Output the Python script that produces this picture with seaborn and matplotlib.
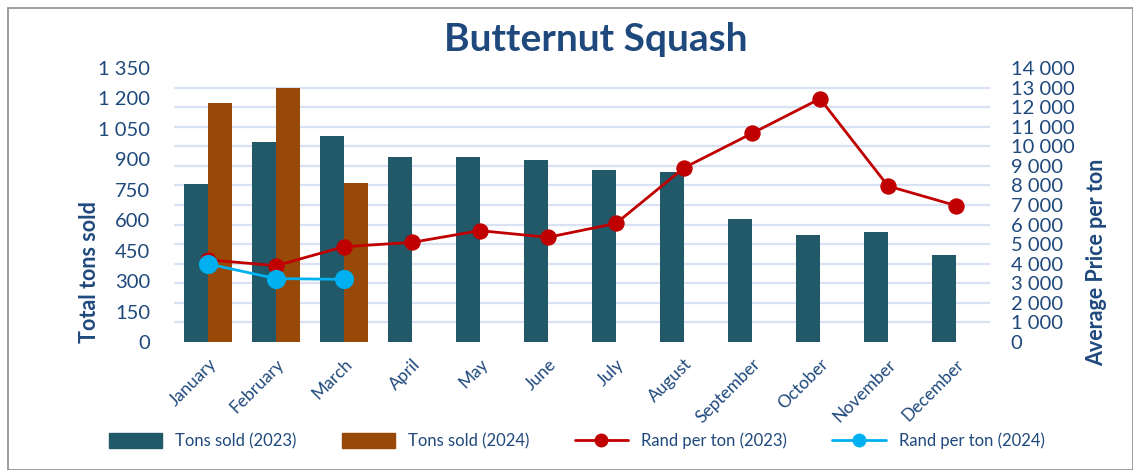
import numpy as np
import pandas as pd
import matplotlib
matplotlib.use("Agg")
import matplotlib.pyplot as plt
import seaborn as sns
from matplotlib.lines import Line2D
from matplotlib.patches import Patch, Rectangle

months = ["January", "February", "March", "April", "May", "June", "July",
          "August", "September", "October", "November", "December"]
tons_2023 = [780, 985, 1015, 910, 912, 898, 846, 836, 607, 527, 540, 428]
tons_2024 = [1176, 1250, 782] + [np.nan] * 9
rand_2023 = [4200, 3900, 4870, 5090, 5690, 5350, 6060, 8900, 10660, 12430, 7970, 6970]
rand_2024 = [3990, 3240, 3200]

teal = "#215968"
brown = "#984807"
red = "#C00000"
blue = "#00B0F0"
txt = "#1F497D"
grid = "#D9E2F3"

sns.set_theme(style="white")
plt.rcParams["font.family"] = ["Lato", "DejaVu Sans"]

df = pd.DataFrame({
    "month": months * 2,
    "tons": tons_2023 + tons_2024,
    "series": ["Tons sold (2023)"] * 12 + ["Tons sold (2024)"] * 12,
})

fig = plt.figure(figsize=(11.33, 4.7), dpi=100)
ax = fig.add_axes([174 / 1133, 1 - 342 / 470, 816 / 1133, 274 / 470])
sns.barplot(data=df, x="month", y="tons", hue="series", order=months,
            palette=[teal, brown], width=0.7, saturation=1, ax=ax,
            legend=False, linewidth=0)
ax.set_xlim(-0.5, 11.5)
ax.set_ylim(0, 1350)
ax.set_yticks(np.arange(0, 1351, 150))
ax.set_yticklabels([f"{v:,}".replace(",", " ") for v in range(0, 1351, 150)])
ax.set_yticks(np.arange(15) * 1350 / 14, minor=True)
ax.grid(which="minor", axis="y", color=grid, lw=1.6)
ax.set_axisbelow(True)
ax.set_xlabel("")
ax.set_ylabel("")
for s in ax.spines.values():
    s.set_visible(False)
ax.tick_params(axis="y", which="both", length=0, pad=17, labelsize=14.5, labelcolor=txt)
ax.tick_params(axis="x", length=0, pad=10, labelsize=12.5, labelcolor=txt)
for lab in ax.get_xticklabels():
    lab.set_rotation(45)
    lab.set_ha("right")
    lab.set_rotation_mode("anchor")

ax2 = ax.twinx()
sns.lineplot(x=np.arange(12), y=rand_2023, ax=ax2, color=red, lw=2,
             marker="o", markersize=11, markeredgecolor=red)
sns.lineplot(x=np.arange(3), y=rand_2024, ax=ax2, color=blue, lw=2,
             marker="o", markersize=13, markeredgecolor=blue)
ax2.set_ylim(0, 14000)
ax2.set_yticks(np.arange(0, 14001, 1000))
ax2.set_yticklabels([f"{v:,}".replace(",", " ") for v in range(0, 14001, 1000)])
ax2.tick_params(axis="y", length=0, pad=15, labelsize=14.5, labelcolor=txt)
ax2.set_xlim(-0.5, 11.5)
for s in ax2.spines.values():
    s.set_visible(False)
ax2.set_ylabel("")

fig.text(90 / 1133, 1 - 343 / 470, "Total tons sold", rotation=90, ha="center",
         va="bottom", fontsize=15.5, fontweight="bold", color=txt)
fig.text(1097 / 1133, 1 - 262 / 470, "Average Price per ton", rotation=90,
         ha="center", va="center", fontsize=15.5, fontweight="bold", color=txt)
fig.text(0.526, 0.915, "Butternut Squash", ha="center", va="center",
         fontsize=28, fontweight="bold", color=txt)

handles = [
    Patch(color=teal, label="Tons sold (2023)"),
    Patch(color=brown, label="Tons sold (2024)"),
    Line2D([], [], color=red, lw=2, marker="o", markersize=9, label="Rand per ton (2023)"),
    Line2D([], [], color=blue, lw=2, marker="o", markersize=9, label="Rand per ton (2024)"),
]
leg = fig.legend(handles=handles, loc="center", bbox_to_anchor=(0.509, 1 - 441 / 470),
                 ncol=4, frameon=False, fontsize=12, handlelength=3.2,
                 handleheight=1.0, columnspacing=2.7, handletextpad=0.8)
for t in leg.get_texts():
    t.set_color(txt)

fig.patches.append(Rectangle((8 / 1133, 0), 1 - 8 / 1133, 1 - 8 / 470,
                             transform=fig.transFigure, fill=False,
                             edgecolor="#8C8C8C", lw=1.2))

fig.savefig("out.png", dpi=100)
